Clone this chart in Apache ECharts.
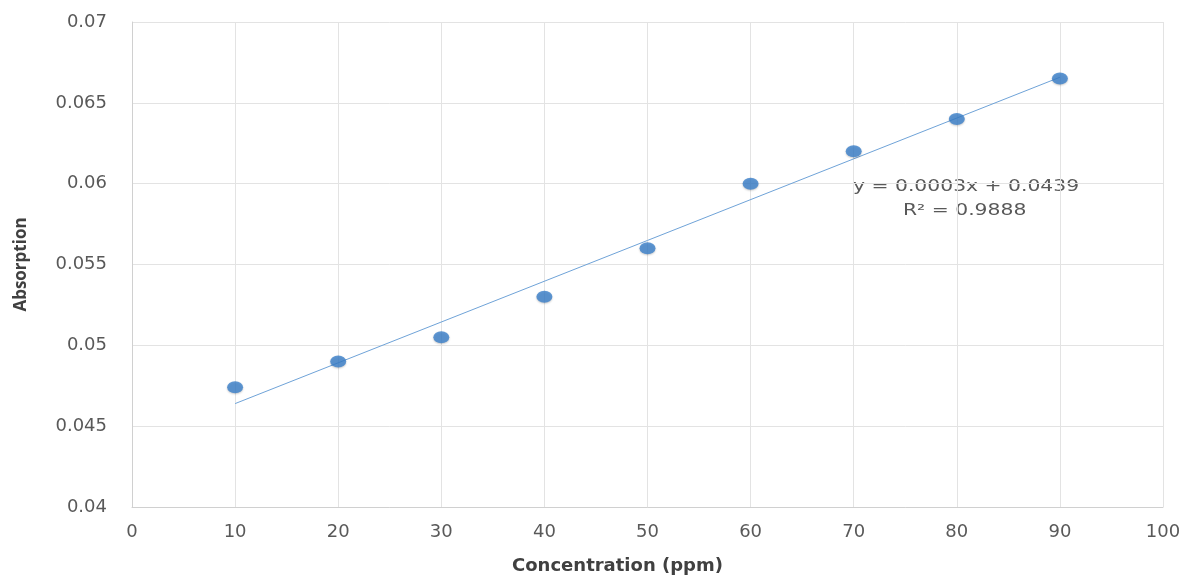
<!DOCTYPE html>
<html><head><meta charset="utf-8">
<script src="https://cdn.jsdelivr.net/npm/echarts@6/dist/echarts.min.js"></script>
<style>html,body{margin:0;padding:0;background:#fff}#c{width:1186px;height:577px}</style>
</head><body><div id="c"></div>
<script>
const concentration = [10, 20, 30, 40, 50, 60, 70, 80, 90];
const absorption = [0.0474, 0.0490, 0.0505, 0.0530, 0.0560, 0.0600, 0.0620, 0.0640, 0.0665];
const equationText = 'y = 0.0003x + 0.0439';
const r2Text = 'R² = 0.9888';

// least-squares trendline from the data
const n = concentration.length;
const mx = concentration.reduce((a,b)=>a+b,0)/n;
const my = absorption.reduce((a,b)=>a+b,0)/n;
let sxy=0,sxx=0;
for(let i=0;i<n;i++){sxy+=(concentration[i]-mx)*(absorption[i]-my);sxx+=(concentration[i]-mx)**2;}
const slope=sxy/sxx, icpt=my-slope*mx;
const x0=concentration[0], x1=concentration[n-1];
const trend=[[x0,icpt+slope*x0],[x1,icpt+slope*x1]];

const chart = echarts.init(document.getElementById('c'));
const font = 'DejaVu Sans';
chart.setOption({
  backgroundColor:'#fff',
  animation:false,
  grid:{left:132,right:23,top:22,bottom:70,containLabel:false,outerBoundsMode:'none'},
  xAxis:{type:'value',min:0,max:100,interval:10,
    name:'Concentration (ppm)',nameLocation:'middle',nameGap:50,
    nameTextStyle:{fontFamily:font,fontWeight:'bold',fontSize:18,color:'#404040',padding:[0,60,0,0]},
    axisLine:{show:true,lineStyle:{color:'#d0d0d0'}},axisTick:{show:false},
    axisLabel:{fontFamily:font,fontSize:18,color:'#595959',margin:16},
    splitLine:{show:true,lineStyle:{color:'#e3e3e3'}}},
  yAxis:{type:'value',min:0.04,max:0.07,interval:0.005,
    name:'Absorption',nameLocation:'middle',nameGap:102,
    nameTextStyle:{fontFamily:'Open Sans',fontWeight:'bold',fontSize:17,color:'#404040'},
    axisLine:{show:true,lineStyle:{color:'#d0d0d0'}},axisTick:{show:false},
    axisLabel:{fontFamily:font,fontSize:18,color:'#595959',margin:25,
      formatter:v=>String(parseFloat(v.toFixed(4)))},
    splitLine:{show:true,lineStyle:{color:'#e3e3e3'}}},
  series:[
    {type:'line',data:trend,symbol:'none',lineStyle:{color:'#6fa3d8',width:1},z:2},
    {type:'scatter',data:concentration.map((x,i)=>[x,absorption[i]]),symbol:'circle',symbolSize:[16,12],
      itemStyle:{color:'#3a7fcb',shadowColor:'rgba(0,0,0,0.25)',shadowBlur:2,shadowOffsetY:1},z:3}
  ],
  graphic:[
    {type:'text',x:853,y:179,scaleX:1.27,style:{text:equationText,font:'16px "DejaVu Sans"',fill:'#595959'}},
    {type:'text',x:903,y:203,scaleX:1.27,style:{text:r2Text,font:'16px "DejaVu Sans"',fill:'#595959'}}
  ]
});
</script></body></html>
